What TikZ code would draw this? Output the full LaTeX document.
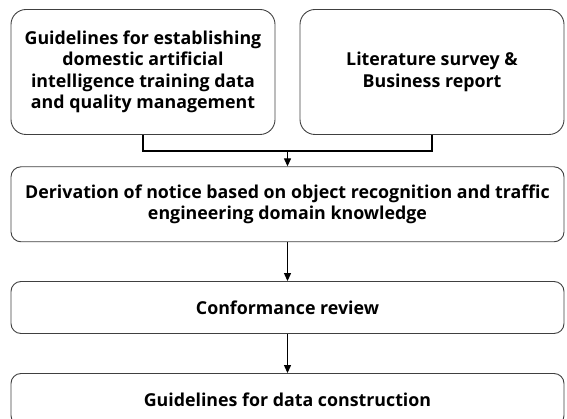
\documentclass[tikz,border=0pt]{standalone}
\usepackage{fontspec}
\setmainfont{Open Sans}
\usepackage{tikz}
\usetikzlibrary{arrows,arrows.meta,positioning}
\tikzstyle{flowChart} = [
  x=1pt,
  y=-1pt,
  every node/.style = {
    shape=rectangle,
    draw=black!75,
    line width=0.9pt,
    align=center,
    inner sep=0pt,
    font=\bfseries\fontsize{17.8}{21.4}\selectfont,},
  ]
\tikzstyle{bigBox} = [rounded corners=15pt, minimum width=264pt, minimum height=125pt]
\tikzstyle{wideBox} = [rounded corners=10pt, minimum width=553pt]
\tikzstyle{flow} = [-{Triangle[length=8pt,width=7pt]}, line width=1.2pt]

\begin{document}
\begin{tikzpicture}[flowChart]
  \clip (0,0) rectangle (567,419);
  % sources
  \node[bigBox] (guide) at (143,72) {
    Guidelines for establishing \\ domestic artificial \\
    intelligence training data \\ and quality management};
  \node[bigBox] (survey) at (432,72) {
    Literature survey \& \\ Business report};
  % steps
  \node[wideBox, minimum height=75pt] (notice) at (287.5,204.3) {
    Derivation of notice based on object recognition and traffic \\
    engineering domain knowledge};
  \node[wideBox, minimum height=52pt] (review) at (287.5,307.5) {
    Conformance review};
  \node[wideBox, minimum height=52pt] (construct) at (287.5,399.5) {
    Guidelines for data construction};
  % connectors
  \coordinate (join) at (287.5,151);
  \draw[line width=1.8pt] (guide.south) |- (join);
  \draw[line width=1.8pt] (survey.south) |- (join);
  \draw[flow] (join) -- (notice.north);
  \draw[flow] (notice) -- (review);
  \draw[flow] (review) -- (construct);
\end{tikzpicture}
\end{document}
